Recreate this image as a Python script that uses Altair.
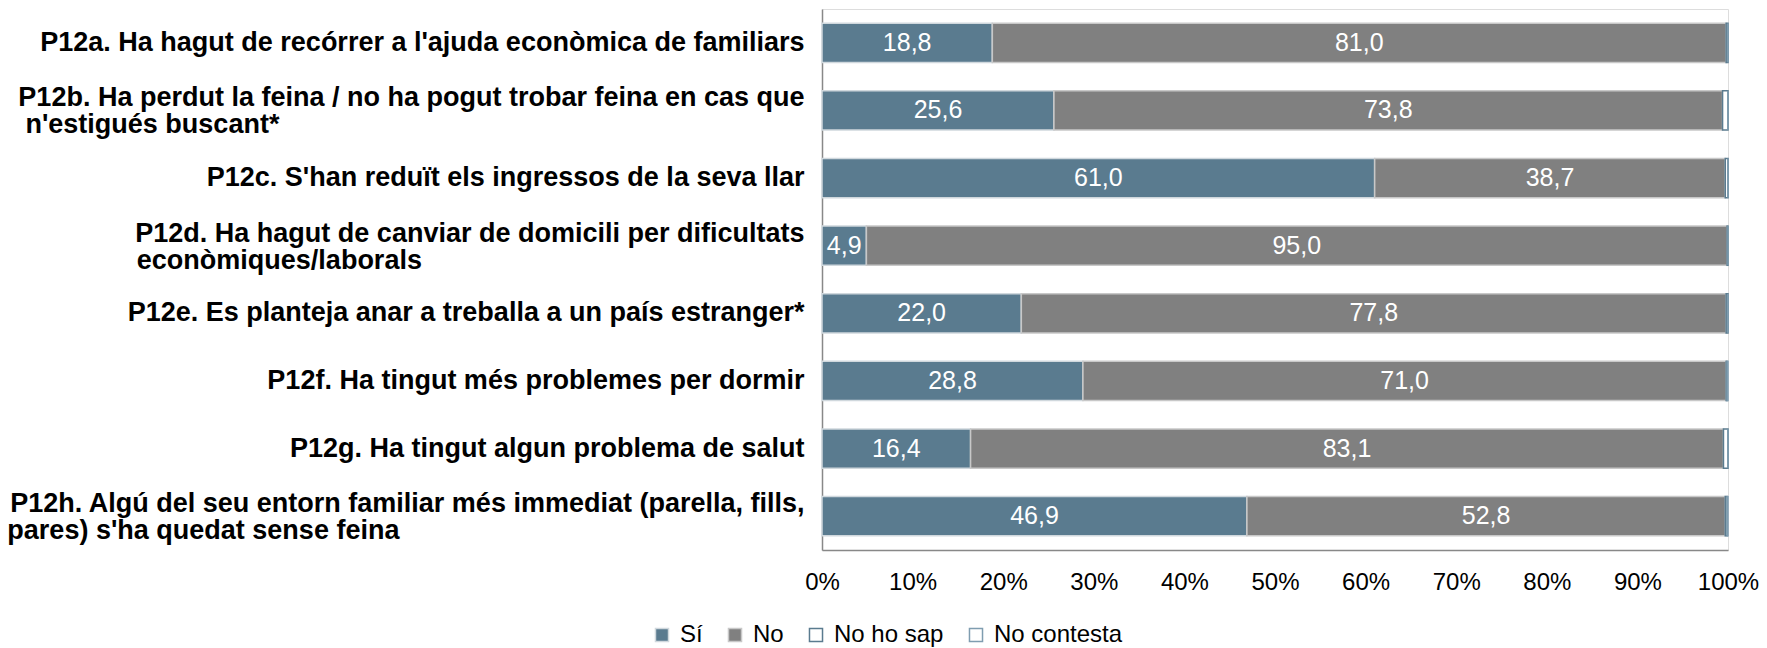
import altair as alt
import pandas as pd

items = [
    "P12a. Ha hagut de recórrer a l'ajuda econòmica de familiars",
    "P12b. Ha perdut la feina / no ha pogut trobar feina en cas que|n'estigués buscant*",
    "P12c. S'han reduït els ingressos de la seva llar",
    "P12d. Ha hagut de canviar de domicili per dificultats|econòmiques/laborals",
    "P12e. Es planteja anar a treballa a un país estranger*",
    "P12f. Ha tingut més problemes per dormir",
    "P12g. Ha tingut algun problema de salut",
    "P12h. Algú del seu entorn familiar més immediat (parella, fills,|pares) s'ha quedat sense feina",
]
categories = ["Sí", "No", "No ho sap", "No contesta"]
si = [18.8, 25.6, 61.0, 4.9, 22.0, 28.8, 16.4, 46.9]
no = [81.0, 73.8, 38.7, 95.0, 77.8, 71.0, 83.1, 52.8]
no_ho_sap = [0.2, 0.6, 0.3, 0.1, 0.2, 0.1, 0.5, 0.2]
no_contesta = [0.0, 0.0, 0.0, 0.0, 0.0, 0.1, 0.0, 0.1]
x_ticks = [0, 0.1, 0.2, 0.3, 0.4, 0.5, 0.6, 0.7, 0.8, 0.9, 1.0]

fills = ["#5A7B8F", "#808080", "#FFFFFF", "#FFFFFF"]
strokes = ["#D0D8DD", "#C8C8C8", "#5A7B8F", "#7F9DB0"]

FONT = "Liberation Sans"
NBSP = "\u00a0"
ZWSP = "\u200b"

# Arial/Liberation Sans Bold advance widths (1/1000 em), used only to pad the
# second line of a two-line label so that it starts under the first line.
_W = {" ": 278, "'": 238, "(": 333, ")": 333, "*": 389, ",": 278, "-": 333,
      ".": 278, "/": 278, ":": 333, "P": 667, "1": 556, "2": 556,
      "a": 556, "b": 611, "c": 556, "d": 611, "e": 556, "f": 333, "g": 611,
      "h": 611, "i": 278, "j": 278, "k": 556, "l": 278, "m": 889, "n": 611,
      "o": 611, "p": 611, "q": 611, "r": 389, "s": 556, "t": 333, "u": 611,
      "v": 556, "w": 778, "x": 556, "y": 556, "z": 500,
      "à": 556, "è": 556, "é": 556, "í": 278, "ï": 278, "ò": 611, "ó": 611,
      "ú": 611, "A": 722}


def _width(s):
    return sum(_W.get(ch, 600) for ch in s)


def _display(label):
    if "|" not in label:
        return label
    l1, l2 = label.split("|")
    n = max(0, round((_width(l1) - _width(l2)) / _W[" "]))
    return l1 + "|" + l2 + NBSP * n + ZWSP


display = [_display(it) for it in items]

rows = []
series = [si, no, no_ho_sap, no_contesta]
for i, it in enumerate(display):
    for k, cat in enumerate(categories):
        rows.append({"item": it, "cat": cat, "idx": k, "value": series[k][i]})
df = pd.DataFrame(rows)

legend = alt.Legend(
    title=None, orient="none", legendX=-172, legendY=614, direction="horizontal",
    symbolType="square", symbolSize=170, symbolStrokeWidth=1.5,
    labelFontSize=24, labelFont=FONT, labelColor="#000000", labelOffset=6,
    columnPadding=20,
)

y_enc = alt.Y(
    "item:N", sort=display, title=None,
    scale=alt.Scale(paddingInner=0.42, paddingOuter=0.21),
    axis=alt.Axis(
        labelExpr="split(datum.label, '|')", labelFontWeight="bold",
        labelFontSize=27, labelFont=FONT, labelColor="#000000",
        labelPadding=18, labelLimit=1000, labelLineHeight=27,
        labelOffset={"condition": {"test": "indexof(datum.label, '|') >= 0", "value": -12},
                     "value": 0},
        ticks=False, domainColor="#888888", domainWidth=1.5, grid=False,
    ),
)

base = alt.Chart(df).transform_calculate(frac="datum.value / 100")

bars = base.mark_bar(strokeWidth=1.5).encode(
    y=y_enc,
    x=alt.X(
        "frac:Q", stack="zero", title=None,
        scale=alt.Scale(domain=[0, 1], nice=False),
        axis=alt.Axis(
            values=x_ticks, format=".0%", labelFontSize=24, labelFont=FONT,
            labelColor="#000000", ticks=False, domainColor="#888888",
            domainWidth=1.5, grid=False, labelPadding=20, labelFlush=False,
        ),
    ),
    order=alt.Order("idx:Q"),
    fill=alt.Fill("cat:N", sort=categories,
                  scale=alt.Scale(domain=categories, range=fills), legend=legend),
    stroke=alt.Stroke("cat:N", sort=categories,
                      scale=alt.Scale(domain=categories, range=strokes), legend=legend),
)

labels = base.transform_window(
    cum="sum(frac)", groupby=["item"], sort=[alt.SortField("idx")],
    frame=[None, 0],
).transform_calculate(
    mid="datum.cum - datum.frac / 2",
    lab="replace(format(datum.value, '.1f'), '.', ',')",
).transform_filter(
    "datum.idx < 2"
).mark_text(color="white", fontSize=25, font=FONT).encode(
    y=alt.Y("item:N", sort=display),
    x=alt.X("mid:Q"),
    text="lab:N",
)

chart = alt.layer(bars, labels).properties(
    width=906, height=541,
    autosize=alt.AutoSizeParams(type="none"),
    padding={"left": 814, "top": 1, "right": 31, "bottom": 98},
).configure_view(stroke=None).configure(font=FONT)

chart.save("out.html", embed_options={"renderer": "svg", "actions": False})
